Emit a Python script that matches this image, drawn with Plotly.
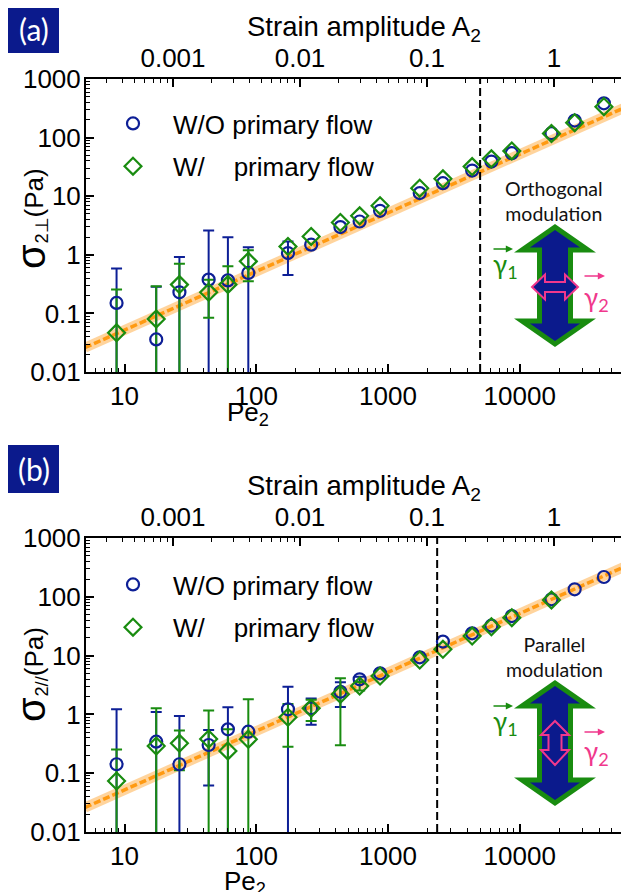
import plotly.graph_objects as go
import math

# ---------------- data ----------------
pe = [8.7, 17.4, 26.1, 43.5, 60.9, 87, 174, 261, 435, 609, 870, 1740, 2610,
      4350, 6090, 8700, 17400, 26100, 43500]

# panel (a): orthogonal modulation
a_wo = [0.151, 0.036, 0.229, 0.377, 0.366, 0.49, 1.07, 1.49, 2.97, 3.7, 5.64,
        11.3, 16.7, 27.4, 39, 54.2, 119, 195, 385]
a_wo_err = [0.43, 0.25, 0.69, 2.22, 1.63, 0.85, 0.62] + [None] * 12
a_w = [0.0466, 0.0805, 0.31, 0.229, 0.31, 0.773, 1.39, 2.06, 3.56, 4.63, 6.86,
       13.7, 19.8, 32, 43.4, 59.3, 117, 180, 337]
a_w_err = [0.21, 0.21, 0.395, 0.145, 0.325, 0.42] + [None] * 13

# panel (b): parallel modulation
b_wo = [0.142, 0.344, 0.142, 0.302, 0.557, 0.508, 1.22, 1.27, 2.43, 3.95, 4.99,
        9.35, 17.3, 23.9, 32.3, 47.1, 90.6, 134, 217]
b_wo_err = [1.08, 0.75, 0.8, 0.24, 0.76, None, 1.74, 0.6, 1.1, 0.4] + [None] * 9
b_w = [0.0736, 0.29, 0.322, 0.382, 0.239, 0.377, 0.893, 1.27, 2.2, 3.04, 4.5,
       8.42, 12.8, 21.5, 31, 44.2, 88, None, None]
b_w_err = [0.18, 0.98, 0.21, 0.78, 0.32, 1.43, 0.61, 0.5, 1.9, 0.5] + [None] * 9

fit_pe = [5, 80000]
fit_sigma = [0.026, 416]

cut_a = 5000
cut_b = 2360

pe_ticks = [10, 100, 1000, 10000]
strain_ticks = [0.001, 0.01, 0.1, 1]
sigma_ticks = [0.01, 0.1, 1, 10, 100, 1000]

# ---------------- style ----------------
W, H = 629, 892
OFF = 8                      # page offset of the plot div (body margin)
ML, MR, MT, MB = 78, 0, 71, 68
NAVY = '#0b1a8c'
BLUE = '#0d1f96'
GREEN = '#198c10'
PINK = '#f0388c'
ORANGE = '#ff9a12'
FONT = 'Liberation Sans, Arial, sans-serif'
GFONT = 'Lato, Noto Sans, sans-serif'


def fx(x):
    return (x - OFF - ML) / (W - ML - MR)


def fy(y):
    return (H - MB - (y - OFF)) / (H - MT - MB)


def poly(pts):
    return 'M ' + ' L '.join('%.5f,%.5f' % (fx(x), fy(y)) for x, y in pts) + ' Z'


def minor_vals(lo, hi):
    return [m * 10 ** e for e in range(lo, hi) for m in range(2, 10)]


fig = go.Figure()


def add_series(xs, ys, errs, color, symbol, size, xa, ya, name, legend):
    keep = [(x, y, e) for x, y, e in zip(xs, ys, errs) if y is not None and e is not None]
    err_tr = go.Scatter(x=[k[0] for k in keep], y=[k[1] for k in keep], mode='markers',
                        xaxis=xa, yaxis=ya,
                        marker=dict(opacity=0, size=2, color=color),
                        error_y=dict(type='data', array=[k[2] for k in keep], symmetric=True,
                                     color=color, thickness=2, width=5.5),
                        showlegend=False, hoverinfo='skip')
    mx = [x for x, y in zip(xs, ys) if y is not None]
    my = [y for y in ys if y is not None]
    mk_tr = go.Scatter(x=mx, y=my, mode='markers', xaxis=xa, yaxis=ya,
                       marker=dict(symbol=symbol, size=size, color=color,
                                   line=dict(color=color, width=2.2)),
                       name=name, legend=legend, legendgroup=legend + name,
                       showlegend=True)
    return err_tr, mk_tr


for (wo, woe, w, we, xa, xt, ya, leg) in [
        (a_wo, a_wo_err, a_w, a_w_err, 'x', 'x2', 'y', 'legend'),
        (b_wo, b_wo_err, b_w, b_w_err, 'x3', 'x4', 'y2', 'legend2')]:
    # empty trace so the top (strain amplitude) axis is drawn
    fig.add_trace(go.Scatter(x=[None], y=[None], xaxis=xt, yaxis=ya, mode='markers',
                             showlegend=False, hoverinfo='skip'))
    # fit band and dashed line
    fig.add_trace(go.Scatter(x=fit_pe, y=fit_sigma, mode='lines', xaxis=xa, yaxis=ya,
                             line=dict(color='rgba(255,170,60,0.5)', width=10),
                             showlegend=False, hoverinfo='skip'))
    fig.add_trace(go.Scatter(x=fit_pe, y=fit_sigma, mode='lines', xaxis=xa, yaxis=ya,
                             line=dict(color=ORANGE, width=3.5, dash='7px,3px'),
                             showlegend=False, hoverinfo='skip'))
    e1, m1 = add_series(pe, wo, woe, BLUE, 'circle-open', 12, xa, ya,
                        'W/O primary flow', leg)
    e2, m2 = add_series(pe, w, we, GREEN, 'diamond-open', 13, xa, ya,
                        'W/\u00a0\u00a0\u00a0\u00a0primary flow', leg)
    for t in (e1, e2, m1, m2):
        fig.add_trace(t)

# ---------------- axes ----------------
PW = W - ML - MR
xr = [math.log10(5.1), math.log10(5.1) + PW / 131.75]
sr = [-3.685, -3.685 + PW / 127.0]
tick_common = dict(showline=True, linecolor='black', linewidth=2, ticks='inside',
                   ticklen=8, tickwidth=1.5, tickcolor='black', showgrid=False,
                   zeroline=False, tickfont=dict(family=FONT, size=26, color='black'))


def minor(lo, hi):
    return dict(tickmode='array', tickvals=minor_vals(lo, hi), ticks='inside',
                ticklen=4, tickwidth=1.2, tickcolor='black')


fig.update_layout(
    xaxis=dict(type='log', range=xr, anchor='y', domain=[0, 1],
               tickmode='array', tickvals=pe_ticks, ticktext=[str(v) for v in pe_ticks],
               minor=minor(0, 5), ticklabelstandoff=0, **tick_common),
    xaxis2=dict(type='log', range=sr, anchor='y', overlaying='x', side='top',
                tickmode='array', tickvals=strain_ticks,
                ticktext=['0.001', '0.01', '0.1', '1'],
                minor=minor(-4, 1), ticklabelstandoff=0, **tick_common),
    yaxis=dict(type='log', range=[-2, 3], domain=[fy(372), 1.0], anchor='x',
               tickmode='array', tickvals=sigma_ticks,
               ticktext=['0.01', '0.1', '1', '10', '100', '1000'],
               minor=minor(-2, 3), ticklabelstandoff=-2, **tick_common),
    xaxis3=dict(type='log', range=xr, anchor='y2', domain=[0, 1],
                tickmode='array', tickvals=pe_ticks, ticktext=[str(v) for v in pe_ticks],
                minor=minor(0, 5), ticklabelstandoff=0, **tick_common),
    xaxis4=dict(type='log', range=sr, anchor='y2', overlaying='x3', side='top',
                tickmode='array', tickvals=strain_ticks,
                ticktext=['0.001', '0.01', '0.1', '1'],
                minor=minor(-4, 1), ticklabelstandoff=0, **tick_common),
    yaxis2=dict(type='log', range=[-2, 3], domain=[0.0, fy(538)], anchor='x3',
                tickmode='array', tickvals=sigma_ticks,
                ticktext=['0.01', '0.1', '1', '10', '100', '1000'],
                minor=minor(-2, 3), ticklabelstandoff=-2, **tick_common),
)

# ---------------- legends ----------------
leg_common = dict(xanchor='left', yanchor='top', bgcolor='rgba(0,0,0,0)',
                  font=dict(family=FONT, size=26, color='black'),
                  itemwidth=70, traceorder='grouped', tracegroupgap=6,
                  borderwidth=0)
fig.update_layout(
    legend=dict(x=fx(93), y=fy(100), **leg_common),
    legend2=dict(x=fx(93), y=fy(561), **leg_common),
)

# ---------------- shapes ----------------
shapes = []
for xa, cut in (('x', cut_a), ('x3', cut_b)):
    yref = 'y domain' if xa == 'x' else 'y2 domain'
    shapes.append(dict(type='line', xref=xa, yref=yref, x0=cut, x1=cut, y0=0, y1=1,
                       line=dict(color='black', width=2, dash='8px,4px')))

c = 555
shapes.append(dict(type='path', xref='paper', yref='paper', fillcolor=NAVY,
                   line=dict(color=GREEN, width=5),
                   path=poly([(c, 227), (c + 33, 250), (c + 15.5, 250), (c + 15.5, 321),
                              (c + 33, 321), (c, 344), (c - 33, 321), (c - 15.5, 321),
                              (c - 15.5, 250), (c - 33, 250)])))
shapes.append(dict(type='path', xref='paper', yref='paper', fillcolor=NAVY,
                   line=dict(color=PINK, width=2),
                   path=poly([(532, 287), (545, 274.5), (545, 282), (565, 282), (565, 274.5),
                              (578, 287), (565, 299.5), (565, 292), (545, 292),
                              (545, 299.5)])))
shapes.append(dict(type='path', xref='paper', yref='paper', fillcolor=NAVY,
                   line=dict(color=GREEN, width=5),
                   path=poly([(c, 683), (c + 33, 706), (c + 15.5, 706), (c + 15.5, 780),
                              (c + 33, 780), (c, 803), (c - 33, 780), (c - 15.5, 780),
                              (c - 15.5, 706), (c - 33, 706)])))
shapes.append(dict(type='path', xref='paper', yref='paper', fillcolor=NAVY,
                   line=dict(color=PINK, width=2),
                   path=poly([(555, 721), (569, 735), (561.5, 735), (561.5, 750),
                              (569, 750), (555, 765), (541, 750), (548.5, 750),
                              (548.5, 735), (541, 735)])))
for y0, y1 in ((5, 53), (445, 493)):
    shapes.append(dict(type='rect', xref='paper', yref='paper', x0=fx(8), x1=fx(59),
                       y0=fy(y1), y1=fy(y0), fillcolor=NAVY, line=dict(width=0)))
fig.update_layout(shapes=shapes)

# ---------------- annotations ----------------
ann = []


def text(x, y, t, size, color='black', family=FONT, angle=0, xanchor='center',
         yanchor='middle'):
    ann.append(dict(x=fx(x), y=fy(y), xref='paper', yref='paper', text=t,
                    showarrow=False, xanchor=xanchor, yanchor=yanchor,
                    textangle=angle, font=dict(family=family, size=size, color=color)))


def vec(x0, x1, y, color):
    ann.append(dict(x=fx(x1), y=fy(y), xref='paper', yref='paper', text='',
                    showarrow=True, ax=x0 - x1, ay=0, axref='pixel', ayref='pixel',
                    arrowhead=2, arrowsize=0.9, arrowwidth=1.6, arrowcolor=color))


text(33.5, 29, '(a)', 30, 'white', GFONT)
text(33.5, 469, '(b)', 30, 'white', GFONT)
text(364, 28, 'Strain amplitude A<sub>2</sub>', 27.5)
text(364, 487, 'Strain amplitude A<sub>2</sub>', 27.5)
text(248, 413, 'Pe<sub>2</sub>', 26)
text(245, 882, 'Pe<sub>2</sub>', 26)
# y-axis titles: big sigma plus subscript / unit
text(31, 257, 'σ', 40, angle=-90)
text(35, 246, '<sub>2⊥</sub>(Pa)', 26, angle=-90, yanchor='bottom')
text(31, 710, 'σ', 40, angle=-90)
text(35, 699, '<sub>2//</sub>(Pa)', 26, angle=-90, yanchor='bottom')
text(554, 201, 'Orthogonal<br>modulation', 19.5, '#111111', GFONT)
text(554, 657, 'Parallel<br>modulation', 19.5, '#111111', GFONT)
text(491, 265, 'γ<sub>1</sub>', 26, GREEN, GFONT, xanchor='left')
text(582, 298, 'γ<sub>2</sub>', 26, PINK, GFONT, xanchor='left')
text(491, 722, 'γ<sub>1</sub>', 26, GREEN, GFONT, xanchor='left')
text(582, 752, 'γ<sub>2</sub>', 26, PINK, GFONT, xanchor='left')
vec(492, 513, 249, GREEN)
vec(583, 605, 276, PINK)
vec(492, 513, 706, GREEN)
vec(583, 605, 732, PINK)
fig.update_layout(annotations=ann)

fig.update_layout(width=W, height=H, margin=dict(l=ML, r=MR, t=MT, b=MB),
                  paper_bgcolor='white', plot_bgcolor='rgba(0,0,0,0)',
                  font=dict(family=FONT, color='black'))

fig.write_html('out.html')
